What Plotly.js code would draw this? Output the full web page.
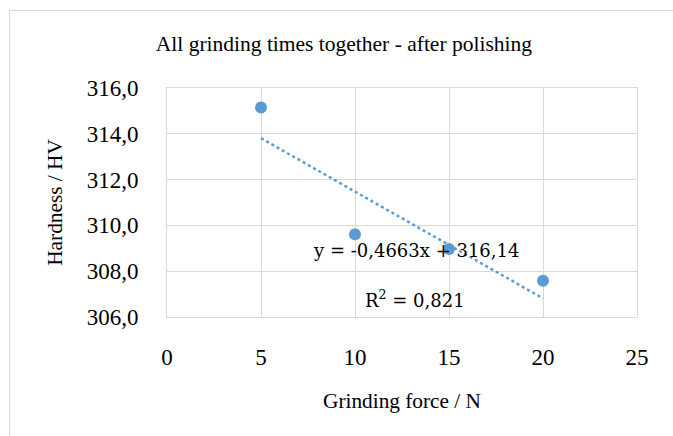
<!DOCTYPE html>
<html>
<head>
<meta charset="utf-8">
<script src="https://cdn.plot.ly/plotly-3.0.1.min.js"></script>
<style>
  html, body { margin: 0; padding: 0; background: #ffffff; }
  #frame { position: absolute; left: 9px; top: 10px; width: 700px; height: 460px; border: 1px solid #d9d9d9; box-sizing: border-box; }
  #chart { position: absolute; left: 0; top: 0; width: 673px; height: 436px; }
</style>
</head>
<body>
<div id="frame"></div>
<div id="chart"></div>
<script>
// Data
const grindingForce = [5, 10, 15, 20];
const hardness = [315.15, 309.61, 308.97, 307.58];
// Linear trendline coefficients shown on the chart
const trendSlope = -0.4663;
const trendIntercept = 316.14;
const trendX = [5, 20];
const trendY = trendX.map(x => trendSlope * x + trendIntercept);

const xTicks = [0, 5, 10, 15, 20, 25];
const yTicks = [306, 308, 310, 312, 314, 316];

const blue = '#5b9bd5';
const grid = '#d9d9d9';
const serif = 'Liberation Serif';
const eqFont = 'DejaVu Serif';

const traces = [
  {
    x: trendX, y: trendY, type: 'scatter', mode: 'lines',
    line: { color: blue, width: 2.5, dash: 'dot' },
    hoverinfo: 'skip', showlegend: false
  },
  {
    x: grindingForce, y: hardness, type: 'scatter', mode: 'markers',
    marker: { color: blue, size: 12 },
    showlegend: false
  }
];

const layout = {
  width: 673, height: 436,
  margin: { l: 167, r: 36, t: 88, b: 119 },
  paper_bgcolor: 'rgba(0,0,0,0)',
  plot_bgcolor: '#ffffff',
  separators: ', ',
  font: { family: serif, color: '#000000', size: 20 },
  title: {
    text: 'All grinding times together - after polishing',
    font: { family: serif, size: 21.5, color: '#000000' },
    x: 0.511, xanchor: 'center', y: 0.9, yanchor: 'middle',
    yref: 'container'
  },
  xaxis: {
    range: [0, 25], tickvals: xTicks, ticktext: xTicks.map(String),
    showgrid: true, gridcolor: grid, gridwidth: 1,
    zeroline: false, showline: true, linecolor: grid, mirror: true,
    ticks: '', ticklabelstandoff: 19,
    tickfont: { family: serif, size: 23, color: '#000000' },
    title: { text: 'Grinding force / N', font: { family: serif, size: 21.3, color: '#000000' }, standoff: 24 }
  },
  yaxis: {
    range: [306, 316], tickvals: yTicks, tickformat: '.1f',
    showgrid: true, gridcolor: grid, gridwidth: 1,
    zeroline: false, showline: true, linecolor: grid, mirror: true,
    ticks: '', ticklabelstandoff: 23,
    tickfont: { family: serif, size: 23, color: '#000000' },
    title: { text: 'Hardness / HV', font: { family: serif, size: 21.3, color: '#000000' }, standoff: 18 }
  },
  annotations: [
    {
      x: 13.22, y: 308.92, xref: 'x', yref: 'y', showarrow: false,
      text: 'y = -0,4663x + 316,14',
      font: { family: eqFont, size: 18, color: '#000000' },
      xanchor: 'center', yanchor: 'middle'
    },
    {
      x: 13.2, y: 306.78, xref: 'x', yref: 'y', showarrow: false,
      text: 'R<sup>2</sup> = 0,821',
      font: { family: eqFont, size: 18, color: '#000000' },
      xanchor: 'center', yanchor: 'middle'
    }
  ]
};

Plotly.newPlot('chart', traces, layout, { displayModeBar: false, staticPlot: true });
</script>
</body>
</html>
